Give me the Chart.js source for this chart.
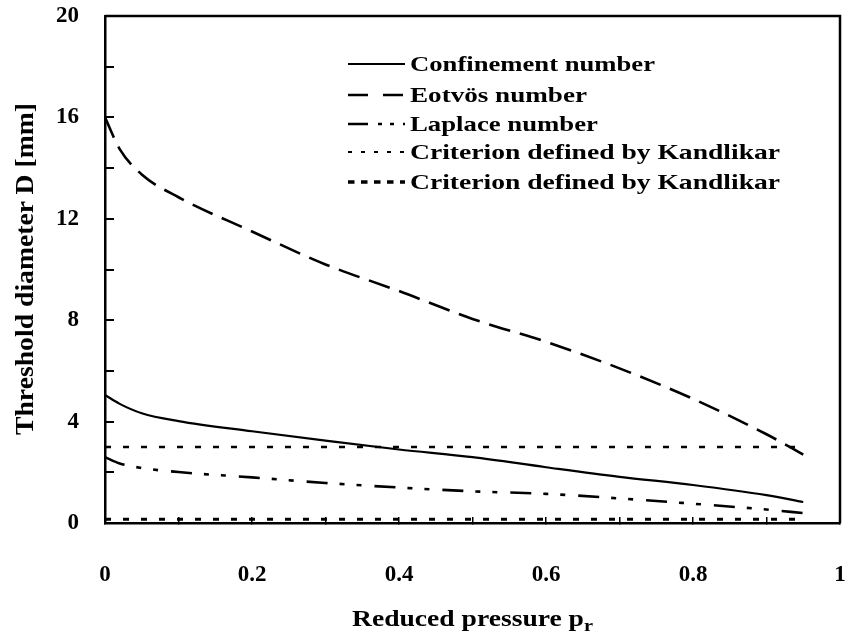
<!DOCTYPE html>
<html><head><meta charset="utf-8">
<script src="https://cdn.jsdelivr.net/npm/chart.js@4"></script>
<style>
html,body{margin:0;padding:0;background:#fff;}
#wrap{position:relative;width:849px;height:641px;overflow:hidden;}
canvas{position:absolute;left:0;top:0;}
.txt{position:absolute;left:0;top:0;font-family:"Liberation Serif","Times New Roman",serif;font-weight:bold;color:#000;white-space:nowrap;line-height:1;transform-origin:0 0;display:inline-block;}
svg.smp{position:absolute;left:0;top:0;overflow:visible;}
</style></head><body>
<div id="wrap">
<canvas id="c" width="849" height="641"></canvas>
<div id="legend"></div>
<div class="txt" id="ytitle" style="font-size:25px">Threshold diameter D [mm]</div>
<div class="txt" id="xtitle" style="font-size:23px">Reduced pressure p<span style="font-size:17px;position:relative;top:5px">r</span></div>
</div>
<script>
// ---- data ----
const pr          = [0, 0.02, 0.05, 0.1, 0.2, 0.3, 0.4, 0.5, 0.6, 0.7, 0.8, 0.9, 0.95];
const confinement = [5.05, 4.7, 4.33, 4.02, 3.62, 3.25, 2.9, 2.6, 2.2, 1.82, 1.5, 1.1, 0.83];
const eotvos      = [16.0, 14.75, 13.75, 12.85, 11.5, 10.2, 9.15, 8.05, 7.15, 6.1, 4.9, 3.5, 2.7];
const laplace     = [2.6, 2.35, 2.17, 2.01, 1.8, 1.58, 1.4, 1.25, 1.15, 0.97, 0.76, 0.53, 0.39];
const kandlikarX  = [0, 0.95];
const kandlikar1  = [3, 3];
const kandlikar2  = [0.15, 0.15];
const seriesNames = ['Confinement number', 'Eotvös number', 'Laplace number',
                     'Criterion defined by Kandlikar', 'Criterion defined by Kandlikar'];
const xTickLabels = ['0', '0.2', '0.4', '0.6', '0.8', '1'];
const yTickLabels = ['0', '4', '8', '12', '16', '20'];

const pts = (xs, ys) => xs.map((x, i) => ({x: x, y: ys[i]}));
const FONT = '"Liberation Serif","Times New Roman",serif';

const styles = [
  {dash: [], w: 2.2},
  {dash: [22, 10], w: 2.6},
  {dash: [21, 12, 5, 12, 5, 13], w: 2.6},
  {dash: [6, 12], w: 2.5},
  {dash: [6, 12], w: 3}
];
const dataSets = [
  pts(pr, confinement), pts(pr, eotvos), pts(pr, laplace),
  pts(kandlikarX, kandlikar1), pts(kandlikarX, kandlikar2)
];

const framePlugin = {
  id: 'frame',
  afterDatasetsDraw(chart) {
    const {ctx, chartArea: a} = chart;
    ctx.save();
    ctx.strokeStyle = '#000';
    ctx.lineWidth = 2.5;
    ctx.beginPath();
    ctx.moveTo(a.left, a.top);
    ctx.lineTo(a.right, a.top);
    ctx.lineTo(a.right, a.bottom);
    ctx.stroke();
    ctx.restore();
  }
};
const noPad = s => { s.paddingTop = 0; s.paddingBottom = 0; s.paddingLeft = 0; s.paddingRight = 0; };

new Chart(document.getElementById('c'), {
  type: 'line',
  data: {
    datasets: dataSets.map((d, i) => ({
      label: seriesNames[i],
      data: d,
      borderColor: '#000',
      borderWidth: styles[i].w,
      borderDash: styles[i].dash,
      pointRadius: 0,
      fill: false,
      cubicInterpolationMode: 'monotone'
    }))
  },
  options: {
    responsive: false,
    animation: false,
    events: [],
    layout: {padding: {left: 0, top: 16, right: 9, bottom: 0}},
    plugins: {legend: {display: false}, tooltip: {enabled: false}},
    scales: {
      x: {
        type: 'linear', min: 0, max: 1,
        afterFit: s => { s.height = 118; noPad(s); },
        border: {color: '#000', width: 2.5},
        grid: {drawOnChartArea: false, drawTicks: true, tickLength: -6, color: '#000', lineWidth: 1.5},
        ticks: {
          stepSize: 0.1, autoSkip: false, maxRotation: 0, padding: 44, color: '#000',
          font: {family: FONT, weight: 'bold', size: 23},
          callback: v => {
            const k = Math.round(v * 10);
            return k % 2 === 0 ? xTickLabels[k / 2] : '';
          }
        }
      },
      y: {
        min: 0, max: 20,
        afterFit: s => { s.width = 105; noPad(s); },
        border: {color: '#000', width: 2.5},
        grid: {drawOnChartArea: false, drawTicks: true, tickLength: -9, color: '#000', lineWidth: 2},
        ticks: {
          stepSize: 2, autoSkip: false, padding: 35, color: '#000',
          font: {family: FONT, weight: 'bold', size: 23},
          callback: v => (Math.round(v) % 4 === 0 ? yTickLabels[Math.round(v) / 4] : '')
        }
      }
    }
  },
  plugins: [framePlugin]
});

// ---- legend (HTML) ----
const legend = document.getElementById('legend');
const rowY = [64, 95, 124, 152, 182];
const rowW = [245, 177, 188, 370, 370];
const sampleDash = ['', '20 15', '20 10 4 8 4 9 2', '4 9', '6.5 6.5'];
const sampleW = [2.2, 2.6, 2.6, 2.2, 3.5];
seriesNames.forEach((name, i) => {
  const svgNS = 'http://www.w3.org/2000/svg';
  const svg = document.createElementNS(svgNS, 'svg');
  svg.setAttribute('class', 'smp');
  svg.setAttribute('width', '60');
  svg.setAttribute('height', '10');
  svg.style.left = '348px';
  svg.style.top = (rowY[i] - 5) + 'px';
  const ln = document.createElementNS(svgNS, 'line');
  ln.setAttribute('x1', '0'); ln.setAttribute('x2', '57');
  ln.setAttribute('y1', '5'); ln.setAttribute('y2', '5');
  ln.setAttribute('stroke', '#000');
  ln.setAttribute('stroke-width', sampleW[i]);
  if (sampleDash[i]) ln.setAttribute('stroke-dasharray', sampleDash[i]);
  svg.appendChild(ln);
  legend.appendChild(svg);
  const t = document.createElement('div');
  t.className = 'txt';
  t.style.fontSize = '22px';
  t.textContent = name;
  legend.appendChild(t);
  const w = t.getBoundingClientRect().width;
  const s = rowW[i] / w;
  t.style.transform = `translate(410px, ${rowY[i] - 11}px) scaleX(${s})`;
});

// ---- axis titles ----
const xt = document.getElementById('xtitle');
const xs = 241 / xt.getBoundingClientRect().width;
xt.style.transform = `translate(352px, 607px) scaleX(${xs})`;

const yt = document.getElementById('ytitle');
const yw = yt.getBoundingClientRect().width;
const ys = 332 / yw;
yt.style.transform = `translate(12px, ${269 + 332 / 2}px) rotate(-90deg) scaleX(${ys})`;
</script>
</body></html>
